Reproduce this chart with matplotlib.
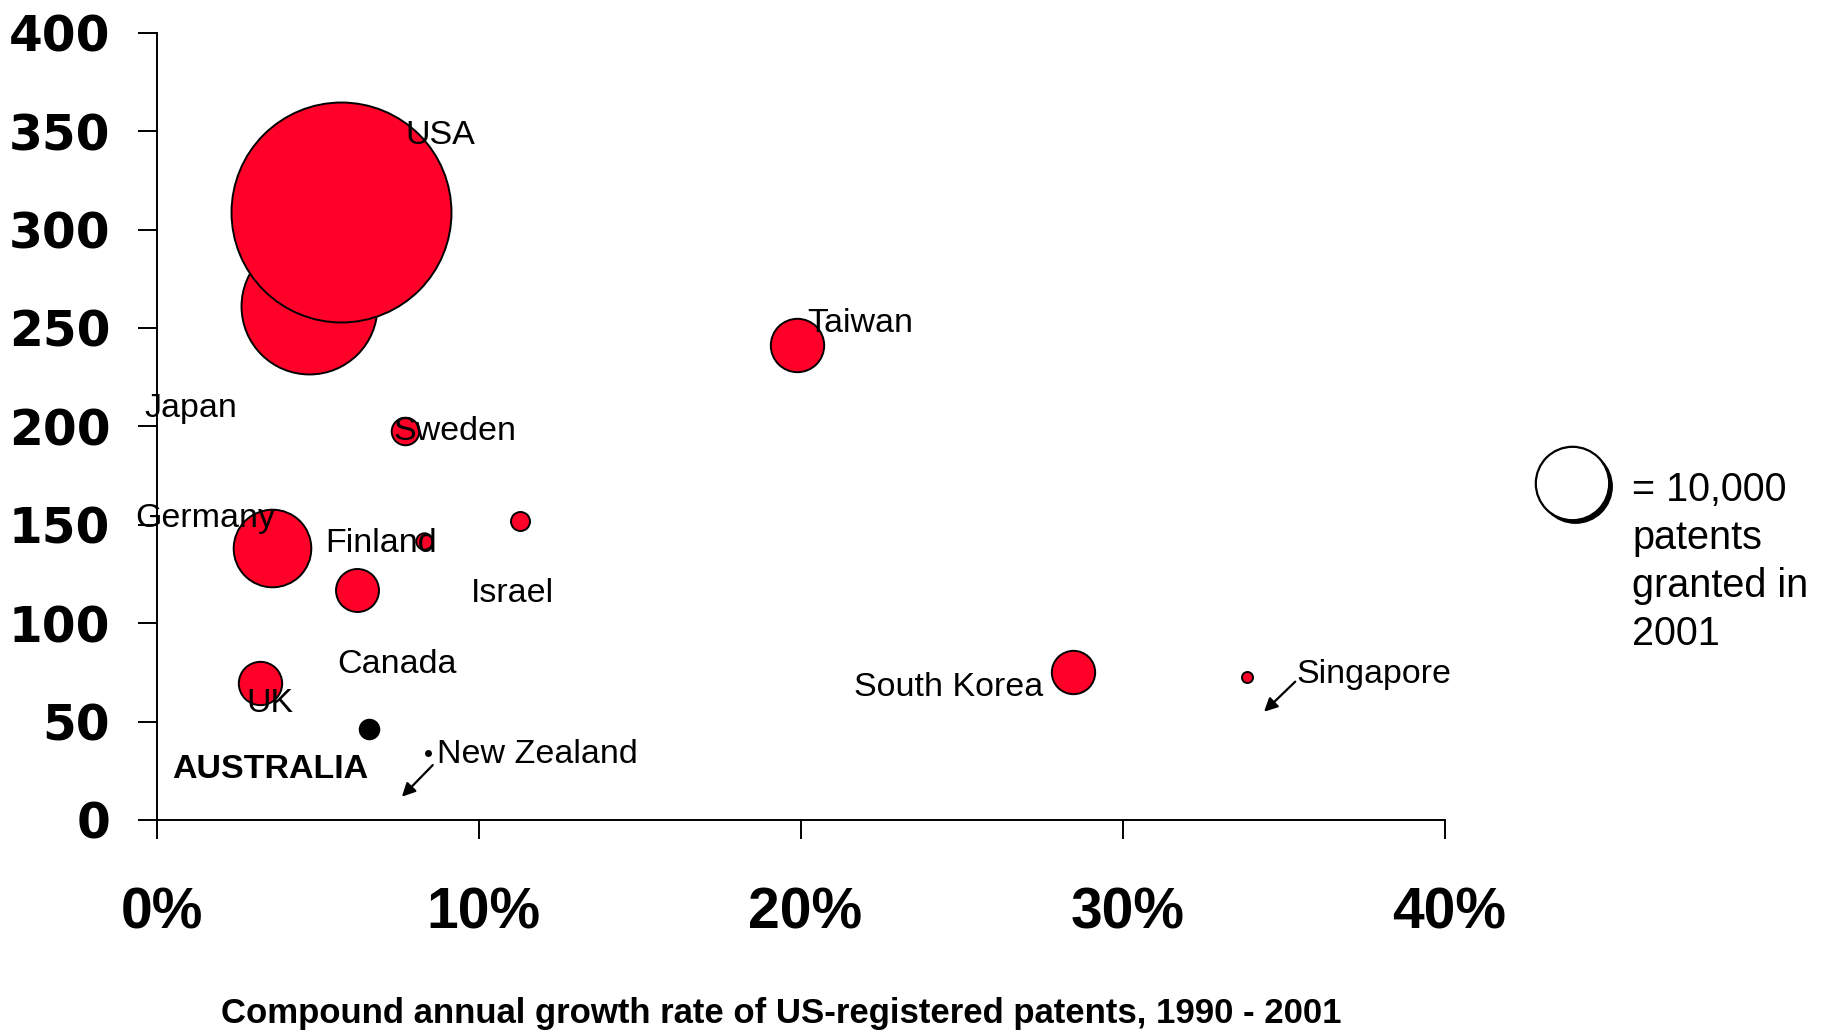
import matplotlib
matplotlib.use("Agg")
import matplotlib.pyplot as plt
import matplotlib.transforms as mtransforms
from matplotlib.ticker import FuncFormatter

plt.rcParams["font.family"] = ["Liberation Sans", "DejaVu Sans"]

# data
countries = ["Japan", "USA", "Taiwan", "Sweden", "Germany", "Finland", "Israel",
             "Canada", "UK", "South Korea", "Singapore", "AUSTRALIA", "New Zealand"]
growthPct = [4.71, 5.70, 19.86, 7.70, 3.56, 8.27, 11.26, 6.19, 3.18, 28.45, 33.85, 6.57, 8.41]
patentsPerMillion = [261.1, 308.9, 241.3, 197.6, 138.0, 141.7, 152.1, 116.9, 69.6, 75.3, 72.8, 46.1, 34.2]
patents2001 = [34300, 89800, 5290, 1410, 11180, 500, 670, 3430, 3490, 3490, 225, 710, 46]
xTicks = [0, 10, 20, 30, 40]
yTicks = [0, 50, 100, 150, 200, 250, 300, 350, 400]
legendPatents = 10000

# where the (shifted) labels sit, left/baseline in data units
labelPos = {
    "USA": (7.69, 343.7), "Taiwan": (20.17, 248.1), "Japan": (-0.40, 205.0),
    "Sweden": (7.33, 193.1), "Germany": (-0.69, 149.0), "Finland": (5.20, 136.3),
    "Israel": (9.73, 110.6), "Canada": (5.58, 74.5), "UK": (2.77, 55.0),
    "South Korea": (21.63, 62.8), "Singapore": (35.39, 69.4),
    "AUSTRALIA": (0.47, 21.5), "New Zealand": (8.69, 28.8),
}
arrows = {"New Zealand": ((8.55, 27.9), (7.59, 11.8)),
          "Singapore": ((35.34, 70.3), (34.37, 55.0))}

sizeScale = 2793.0 / legendPatents   # points^2 per patent
red = "#FF0028"

fig = plt.figure(figsize=(18.29, 10.31), dpi=100)
ax = fig.add_axes([0.08611, 0.20466, 0.70410, 0.76363])

colors = ["black" if c in ("AUSTRALIA", "New Zealand") else red for c in countries]
for i in range(len(countries)):
    ax.scatter(growthPct[i], patentsPerMillion[i], s=patents2001[i] * sizeScale,
               c=colors[i], edgecolors="black", linewidths=1.4, zorder=3, clip_on=False)

for name, (lx, ly) in labelPos.items():
    ax.text(lx, ly, name, fontsize=24.5, ha="left", va="baseline", zorder=5,
            fontweight="bold" if name == "AUSTRALIA" else "normal")

for name, (start, tip) in arrows.items():
    ax.annotate("", xy=tip, xytext=start, zorder=5,
                arrowprops=dict(arrowstyle="-|>", color="black", lw=1.6, mutation_scale=20,
                                shrinkA=0, shrinkB=0))

# size key with shadow
shadow = mtransforms.offset_copy(ax.transData, fig=fig, x=3, y=-3, units="dots")
ax.scatter(43.93, 171.2, s=legendPatents * sizeScale, c="black", edgecolors="black",
           transform=shadow, clip_on=False, zorder=3)
ax.scatter(43.93, 171.2, s=legendPatents * sizeScale, c="white", edgecolors="black",
           linewidths=1.6, clip_on=False, zorder=4)
keyLines = ["= 10,000", "patents", "granted in", "2001"]
for j, line in enumerate(keyLines):
    ax.text(45.8, 162.0 - j * 24.4, line, fontsize=28.5, ha="left", va="baseline")

ax.set_xlim(0, 40)
ax.set_ylim(0, 400)
ax.set_xticks(xTicks)
ax.set_yticks(yTicks)
ax.xaxis.set_major_formatter(FuncFormatter(lambda v, p: "%d%%" % v))
for side in ["top", "right"]:
    ax.spines[side].set_visible(False)
for side in ["left", "bottom"]:
    ax.spines[side].set_linewidth(1.4)
ax.tick_params(axis="both", direction="out", length=14, width=1.4)
ax.tick_params(axis="y", pad=20, labelsize=35)
ax.tick_params(axis="x", pad=34, labelsize=41)
for t in ax.get_yticklabels():
    t.set_fontweight("bold")
    t.set_family("DejaVu Sans")
nudge = mtransforms.ScaledTranslation(4 / 100, 0, fig.dpi_scale_trans)
for t in ax.get_xticklabels():
    t.set_fontweight("bold")
    t.set_transform(t.get_transform() + nudge)

fig.text(0.4273, 0.0078, "Compound annual growth rate of US-registered patents, 1990 - 2001",
         fontsize=25, fontweight="bold", ha="center", va="baseline")

fig.savefig("out.png", dpi=100)
